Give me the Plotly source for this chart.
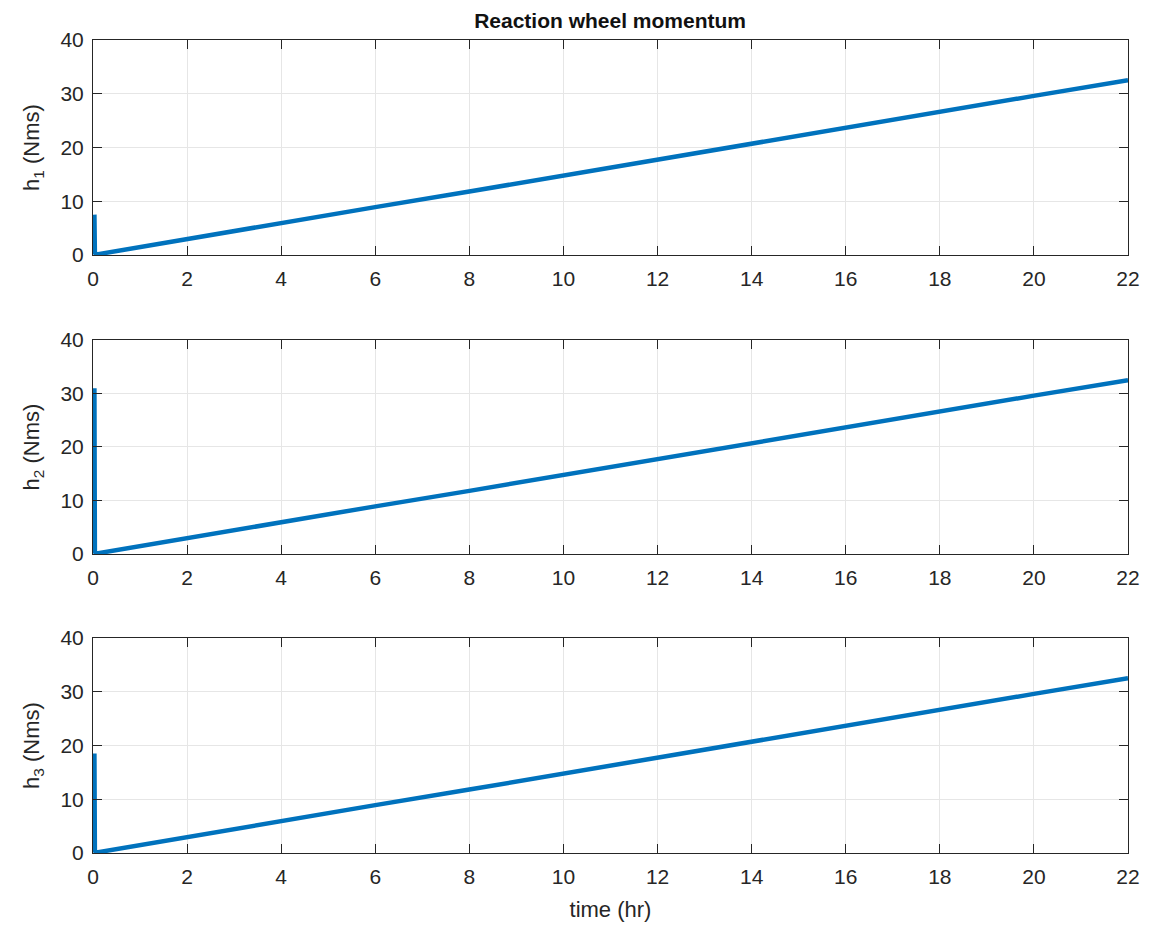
import plotly.graph_objects as go
from plotly.subplots import make_subplots

# Sample times (hr) and wheel momentum per axis (Nms)
time_hr = [0.03, 0.04, 0.08, 2, 4, 6, 8, 10, 12, 14, 16, 18, 20, 22]
h1 = [7.5, 0.4, 0.1, 3.0, 5.9, 8.9, 11.8, 14.8, 17.7, 20.7, 23.6, 26.6, 29.6, 32.5]
h2 = [31.0, 0.4, 0.1, 3.0, 5.9, 8.9, 11.8, 14.8, 17.7, 20.7, 23.6, 26.6, 29.6, 32.5]
h3 = [18.5, 0.4, 0.1, 3.0, 5.9, 8.9, 11.8, 14.8, 17.7, 20.7, 23.6, 26.6, 29.6, 32.5]

series = [h1, h2, h3]
y_titles = ["h<sub>1</sub> (Nms)", "h<sub>2</sub> (Nms)", "h<sub>3</sub> (Nms)"]
x_ticks = list(range(0, 23, 2))
y_ticks = [0, 10, 20, 30, 40]

LINE_BLUE = "#0072BD"
AXIS_COLOR = "#262626"
GRID_COLOR = "#e6e6e6"
FONT = "Liberation Sans, Arial, Helvetica, sans-serif"

fig = make_subplots(rows=3, cols=1, shared_xaxes=False, vertical_spacing=0.1)

for i, vals in enumerate(series, start=1):
    fig.add_trace(
        go.Scatter(x=time_hr, y=vals, mode="lines",
                   line=dict(color=LINE_BLUE, width=4.5),
                   showlegend=False),
        row=i, col=1,
    )

domains = [[0.7356, 1.0], [0.3678, 0.631], [0.0, 0.2645]]
for i in range(1, 4):
    fig.update_xaxes(
        range=[0, 22], tickvals=x_ticks, ticks="inside", ticklen=9,
        tickcolor=AXIS_COLOR, tickwidth=1, ticklabelstandoff=5,
        showline=True, linecolor=AXIS_COLOR, linewidth=1, mirror="ticks",
        showgrid=True, gridcolor=GRID_COLOR, gridwidth=1, zeroline=False,
        tickfont=dict(size=21, color=AXIS_COLOR, family=FONT),
        automargin=False,
        row=i, col=1,
    )
    fig.update_yaxes(
        range=[0, 40], tickvals=y_ticks, ticks="inside", ticklen=9,
        tickcolor=AXIS_COLOR, tickwidth=1, ticklabelstandoff=4,
        showline=True, linecolor=AXIS_COLOR, linewidth=1, mirror="ticks",
        showgrid=True, gridcolor=GRID_COLOR, gridwidth=1, zeroline=False,
        tickfont=dict(size=21, color=AXIS_COLOR, family=FONT),
        title=dict(text=y_titles[i - 1], standoff=14,
                   font=dict(size=22, color=AXIS_COLOR, family=FONT)),
        domain=domains[i - 1], automargin=False,
        row=i, col=1,
    )

fig.update_xaxes(title=dict(text="time (hr)", standoff=14,
                            font=dict(size=22, color=AXIS_COLOR, family=FONT)),
                 row=3, col=1)

fig.update_layout(
    width=1150, height=928,
    margin=dict(l=93, r=22, t=40, b=75),
    paper_bgcolor="white", plot_bgcolor="white",
    title=dict(text="<b>Reaction wheel momentum</b>", x=0.5305, xanchor="center",
               y=0.978, yanchor="middle",
               font=dict(size=21, color="#111111", family=FONT)),
)

fig.write_html("out.html")
